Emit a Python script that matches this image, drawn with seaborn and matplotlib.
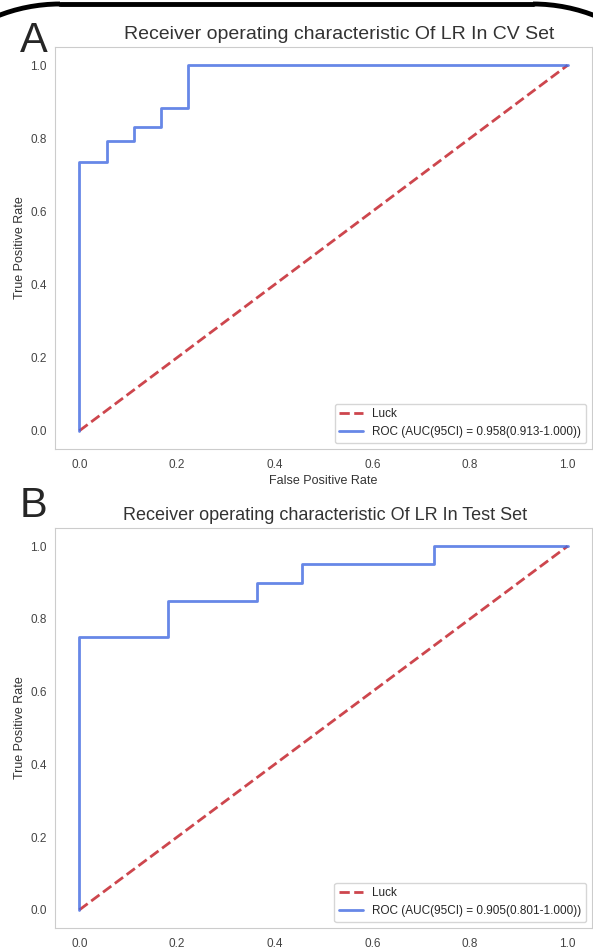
# ROC curves of the LR model on the CV and test sets, stacked as panels A and B.

import matplotlib
matplotlib.use("Agg")
import matplotlib.pyplot as plt
from matplotlib.patches import Arc
from matplotlib.lines import Line2D
from matplotlib.transforms import IdentityTransform
import seaborn as sns

# panel A: cross-validation set
cv_fpr = [0.0, 0.0, 0.0556, 0.0556, 0.1111, 0.1111, 0.1667, 0.1667, 0.2222, 0.2222, 1.0]
cv_tpr = [0.0, 0.735, 0.735, 0.793, 0.793, 0.831, 0.831, 0.884, 0.884, 1.0, 1.0]
cv_label = "ROC (AUC(95CI) = 0.958(0.913-1.000))"

# panel B: test set
test_fpr = [0.0, 0.0, 0.182, 0.182, 0.364, 0.364, 0.455, 0.455, 0.727, 0.727, 1.0]
test_tpr = [0.0, 0.75, 0.75, 0.85, 0.85, 0.90, 0.90, 0.95, 0.95, 1.0, 1.0]
test_label = "ROC (AUC(95CI) = 0.905(0.801-1.000))"

luck_x = [0.0, 1.0]
luck_y = [0.0, 1.0]
ticks = [0.0, 0.2, 0.4, 0.6, 0.8, 1.0]

sns.set_style("whitegrid")
plt.rcParams["font.family"] = ["Liberation Sans", "DejaVu Sans"]

W, H = 593, 952
fig = plt.figure(figsize=(W / 100, H / 100), dpi=100)


def roc_panel(rect, fpr, tpr, label, title, title_size, title_x, show_xlabel):
    ax = fig.add_axes(rect)
    sns.lineplot(x=luck_x, y=luck_y, ax=ax, color="#c8323a", linestyle="--",
                 linewidth=2, label="Luck", alpha=0.9)
    sns.lineplot(x=fpr, y=tpr, ax=ax, color="royalblue", linewidth=2,
                 label=label, alpha=0.8, sort=False, estimator=None)
    ax.grid(False)
    ax.set_xlim(-0.05, 1.05)
    ax.set_ylim(-0.05, 1.05)
    ax.set_xticks(ticks)
    ax.set_yticks(ticks)
    ax.tick_params(labelsize=8.5, colors="#444444", length=0)
    ax.tick_params(axis="x", pad=7)
    ax.tick_params(axis="y", pad=6)
    ax.set_ylabel("True Positive Rate", fontsize=9, color="#333333", labelpad=3)
    if show_xlabel:
        ax.set_xlabel("False Positive Rate", fontsize=9, color="#333333", labelpad=3)
    ax.set_title(title, fontsize=title_size, color="#333333", pad=6, x=title_x)
    ax.legend(loc="lower right", fontsize=8.5, frameon=True)
    return ax


roc_panel([55 / W, 1 - 449 / H, 537 / W, 402 / H], cv_fpr, cv_tpr, cv_label,
          "Receiver operating characteristic Of LR In CV Set", 14, 0.529, True)
roc_panel([55 / W, 1 - 928 / H, 537 / W, 400 / H], test_fpr, test_tpr, test_label,
          "Receiver operating characteristic Of LR In Test Set", 13, 0.503, False)

fig.text(20 / W, 1 - 52 / H, "A", fontsize=30, va="baseline", ha="left")
fig.text(20 / W, 1 - 517 / H, "B", fontsize=30, va="baseline", ha="left")

# rounded frame around the composite, only its top edge shows
r = 169
top = H - 4
frame_kw = dict(transform=IdentityTransform(), color="black", linewidth=3.5, clip_on=False)
fig.add_artist(Arc((60, top - r), 2 * r, 2 * r, theta1=90, theta2=180, **frame_kw))
fig.add_artist(Arc((W - 60, top - r), 2 * r, 2 * r, theta1=0, theta2=90, **frame_kw))
fig.add_artist(Line2D([60, W - 60], [top, top], **frame_kw))

plt.savefig("out.png", dpi=100)
plt.close()
